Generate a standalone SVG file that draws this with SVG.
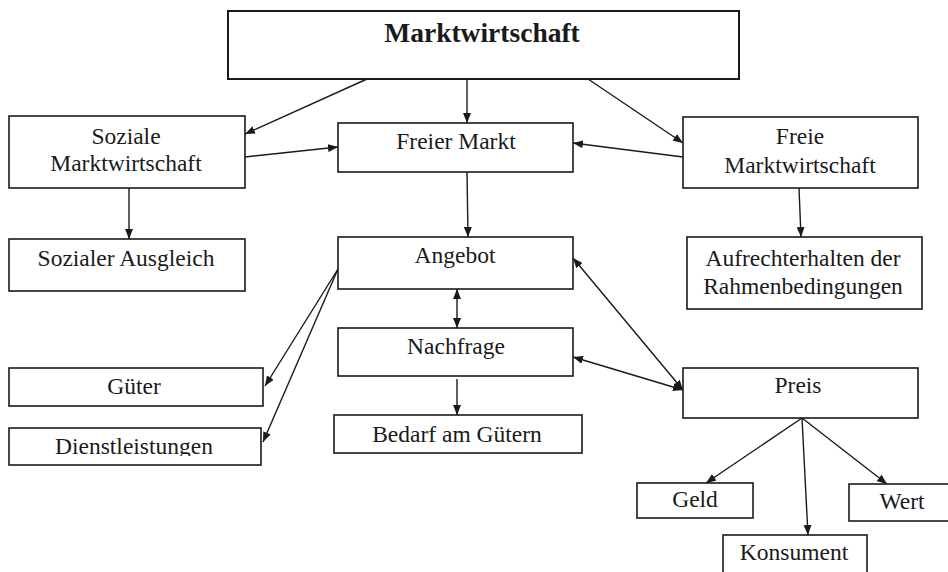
<svg xmlns="http://www.w3.org/2000/svg" width="948" height="572" viewBox="0 0 948 572">
<style>
  .box { fill: #fff; stroke: #1a1a1a; stroke-width: 1.6; }
  .t { font-family: 'Liberation Serif', 'Times New Roman', 'DejaVu Serif', serif; font-size: 23.5px; font-weight: normal; fill: #1a1a1a; text-anchor: middle; }
  .tb { font-family: 'Liberation Serif', 'Times New Roman', 'DejaVu Serif', serif; font-size: 27.5px; font-weight: bold; fill: #1a1a1a; text-anchor: middle; }
  .c { stroke: #1a1a1a; stroke-width: 1.4; fill: none; }
</style>
<defs>
  <marker id="ah" viewBox="0 0 10 8" refX="10" refY="4" markerWidth="10" markerHeight="8" markerUnits="userSpaceOnUse" orient="auto-start-reverse">
    <path d="M0,0 L10,4 L0,8 z" fill="#1a1a1a"/>
  </marker>
  <clipPath id="clipD"><rect x="0" y="420" width="300" height="36"/></clipPath>
</defs>
<rect width="948" height="572" fill="#fff"/>

<g id="connectors">
  <path class="c" d="M367,79 L245,134" marker-end="url(#ah)"/>
  <path class="c" d="M467,79 L467,123" marker-end="url(#ah)"/>
  <path class="c" d="M588,79 L683,143" marker-end="url(#ah)"/>
  <path class="c" d="M245,157 L338,147" marker-end="url(#ah)"/>
  <path class="c" d="M683,157 L573,143" marker-end="url(#ah)"/>
  <path class="c" d="M129,188 L129,239" marker-end="url(#ah)"/>
  <path class="c" d="M467,172 L468,237" marker-end="url(#ah)"/>
  <path class="c" d="M799,188 L801,237" marker-end="url(#ah)"/>
  <path class="c" d="M457,289 L457,328" marker-start="url(#ah)" marker-end="url(#ah)"/>
  <path class="c" d="M457,379 L457,415" marker-end="url(#ah)"/>
  <path class="c" d="M338,269 L265,386" marker-end="url(#ah)"/>
  <path class="c" d="M338,269 L263,442" marker-end="url(#ah)"/>
  <path class="c" d="M573,258 L683,390" marker-start="url(#ah)" marker-end="url(#ah)"/>
  <path class="c" d="M573,357 L683,390" marker-start="url(#ah)" marker-end="url(#ah)"/>
  <path class="c" d="M802,418 L706,483" marker-end="url(#ah)"/>
  <path class="c" d="M802,418 L808,535" marker-end="url(#ah)"/>
  <path class="c" d="M802,418 L887,484" marker-end="url(#ah)"/>
</g>

<g id="marktwirtschaft">
  <rect class="box" x="228" y="11" width="511" height="68" style="stroke-width:2"/>
  <text class="tb" x="482" y="42">Marktwirtschaft</text>
</g>
<g id="soziale-marktwirtschaft">
  <rect class="box" x="9" y="116" width="236" height="72"/>
  <text class="t" x="126" y="144">Soziale</text>
  <text class="t" x="126" y="171">Marktwirtschaft</text>
</g>
<g id="freier-markt">
  <rect class="box" x="338" y="123" width="235" height="49"/>
  <text class="t" x="456" y="149">Freier Markt</text>
</g>
<g id="freie-marktwirtschaft">
  <rect class="box" x="683" y="117" width="235" height="71"/>
  <text class="t" x="800" y="144">Freie</text>
  <text class="t" x="800" y="173">Marktwirtschaft</text>
</g>
<g id="sozialer-ausgleich">
  <rect class="box" x="9" y="239" width="236" height="52"/>
  <text class="t" x="126" y="266">Sozialer Ausgleich</text>
</g>
<g id="angebot">
  <rect class="box" x="338" y="237" width="235" height="52"/>
  <text class="t" x="455" y="263">Angebot</text>
</g>
<g id="aufrechterhalten">
  <rect class="box" x="687" y="237" width="235" height="72"/>
  <text class="t" x="803" y="266">Aufrechterhalten der</text>
  <text class="t" x="803" y="294">Rahmenbedingungen</text>
</g>
<g id="nachfrage">
  <rect class="box" x="338" y="328" width="235" height="48"/>
  <text class="t" x="456" y="354">Nachfrage</text>
</g>
<g id="gueter">
  <rect class="box" x="9" y="368" width="254" height="38"/>
  <text class="t" x="134" y="394">Güter</text>
</g>
<g id="preis">
  <rect class="box" x="683" y="368" width="235" height="50"/>
  <text class="t" x="798" y="393">Preis</text>
</g>
<g id="dienstleistungen">
  <rect class="box" x="9" y="428" width="252" height="37"/>
  <text class="t" x="134" y="454" clip-path="url(#clipD)">Dienstleistungen</text>
</g>
<g id="bedarf">
  <rect class="box" x="334" y="415" width="248" height="38"/>
  <text class="t" x="457" y="442">Bedarf am Gütern</text>
</g>
<g id="geld">
  <rect class="box" x="637" y="483" width="116" height="35"/>
  <text class="t" x="695" y="507">Geld</text>
</g>
<g id="wert">
  <rect class="box" x="849" y="484" width="110" height="37"/>
  <text class="t" x="902" y="509">Wert</text>
</g>
<g id="konsument">
  <rect class="box" x="723" y="535" width="144" height="50"/>
  <text class="t" x="794" y="560">Konsument</text>
</g>
</svg>
